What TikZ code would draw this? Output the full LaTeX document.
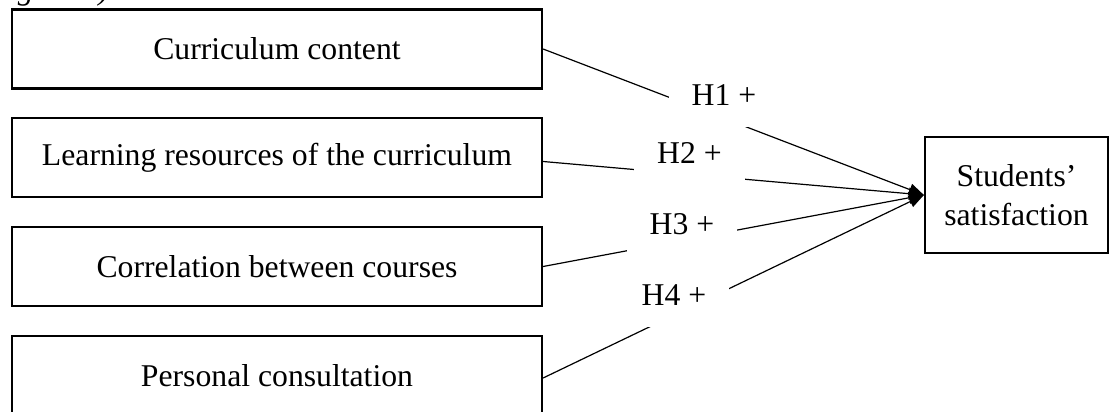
\documentclass[tikz,border=0pt]{standalone}
\usepackage{fontspec}
\setmainfont{Liberation Serif}
\usetikzlibrary{arrows.meta}
\begin{document}
\begin{tikzpicture}[x=1pt,y=-1pt,
  txt/.style={font=\fontsize{31.7}{39}\selectfont},
  srcbox/.style={txt, draw, line width=2.2pt, minimum width=530pt, minimum height=79pt, inner sep=0pt},
  tgtbox/.style={txt, draw, line width=2.2pt, minimum width=183pt, minimum height=116pt, inner sep=0pt, align=center},
  conn/.style={line width=1.2pt, -{Triangle[length=15pt,width=12pt]}},
  hlab/.style={txt, fill=white, inner xsep=23pt, inner ysep=21.5pt, text height=21pt, text depth=0pt, anchor=base}]
\useasboundingbox (0,0) rectangle (1111,412);
% caption fragment, cut by the top edge as in the reference
\node[txt, font=\fontsize{31.7}{39}\selectfont\itshape, anchor=base west, inner sep=0pt] (fig) at (-21,-0.5) {(Figure 1).};
% source boxes
\node[srcbox] (c1) at (277,49) {Curriculum content};
\node[srcbox] (c2) at (277,157.5) {Learning resources of the curriculum};
\node[srcbox] (c3) at (277,266.5) {Correlation between courses};
\node[srcbox] (c4) at (277,375.5) {Personal consultation};
% target box
\node[tgtbox] (t) at (1016.5,195) {Students’\\satisfaction};
% connectors
\draw[conn] (c1.east) -- (t.west);
\draw[conn] ([yshift=-4pt]c2.east) -- (t.west);
\draw[conn] (c3.east) -- (t.west);
\draw[conn] ([yshift=-2.5pt]c4.east) -- (t.west);
% hypothesis labels
\node[hlab] (h1) at (724,105) {H1 +};
\node[hlab] (h2) at (689.5,163) {H2 +};
\node[hlab] (h3) at (682,234) {H3 +};
\node[hlab] (h4) at (674,305) {H4 +};
\end{tikzpicture}
\end{document}
